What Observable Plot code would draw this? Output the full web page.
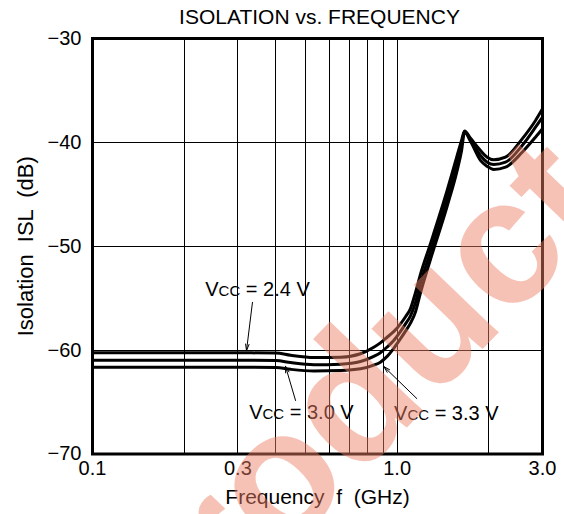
<!DOCTYPE html>
<html>
<head>
<meta charset="utf-8">
<script src="https://cdn.jsdelivr.net/npm/d3@7"></script>
<script src="https://cdn.jsdelivr.net/npm/@observablehq/plot@0.6"></script>
<style>
  html, body { margin: 0; padding: 0; background: #fff; }
  svg text { white-space: pre; }
</style>
</head>
<body>
<div id="chart"></div>
<script>
// ---- data ----
const freq  = [0.1, 0.2, 0.3, 0.4, 0.447, 0.533, 0.652, 0.758, 0.838, 0.881, 0.927, 0.976, 1.026, 1.064, 1.106, 1.149, 1.19, 1.287, 1.459, 1.574, 1.627, 1.664, 1.741, 1.877, 1.975, 2.076, 2.268, 2.573, 2.846, 3.0];
const isl24 = [-60.26, -60.26, -60.26, -60.28, -60.5, -60.72, -60.68, -60.35, -59.72, -59.3, -58.76, -58.2, -57.47, -56.81, -56.0, -54.45, -52.8, -49.73, -44.63, -41.26, -39.82, -38.9, -39.6, -40.78, -41.43, -41.68, -41.43, -39.66, -37.89, -36.77];
const isl30 = [-60.98, -60.98, -60.98, -61.0, -61.2, -61.4, -61.35, -61.1, -60.6, -60.25, -59.7, -59.05, -58.2, -57.5, -56.7, -55.4, -53.7, -50.5, -45.4, -42.0, -40.3, -38.95, -39.75, -41.26, -41.91, -42.13, -41.91, -40.3, -38.54, -37.57];
const isl33 = [-61.65, -61.65, -61.65, -61.68, -61.85, -62.0, -61.96, -61.8, -61.45, -61.16, -60.6, -59.8, -58.9, -58.2, -57.4, -56.3, -54.6, -51.25, -46.15, -42.7, -40.8, -39.0, -39.9, -41.74, -42.32, -42.61, -42.39, -40.95, -39.5, -38.69];
const vccNames = ["2.4 V", "3.0 V", "3.3 V"];

const xTicks = [0.1, 0.3, 1, 3];
const xTickLabels = ["0.1", "0.3", "1.0", "3.0"];
const yTicks = [-70, -60, -50, -40, -30];
const xGrid = [0.2, 0.3, 0.4, 0.5, 0.6, 0.7, 0.8, 0.9, 1, 2];
const yGrid = [-60, -50, -40];

const title = "ISOLATION vs. FREQUENCY";
const xLabel = "Frequency  f  (GHz)";
const yLabel = "Isolation  ISL  (dB)";
const watermark = "Product";

// annotation labels (data coordinates)
const labelF = [0.348, 0.485, 1.45];
const labelV = [-54.2, -66.0, -66.1];
// arrows: start -> tip
const arrowF1 = [0.335, 0.464, 1.16];
const arrowV1 = [-55.4, -64.85, -64.66];
const arrowF2 = [0.3203, 0.430, 0.904];
const arrowV2 = [-60.05, -61.55, -61.58];

// ---- build tables ----
const seriesVals = [isl24, isl30, isl33];
const curves = [];
seriesVals.forEach((vals, s) => {
  vals.forEach((v, i) => curves.push({vcc: vccNames[s], f: freq[i], v}));
});
const labels = vccNames.map((n, i) => ({text: "VCC = " + n, f: labelF[i], v: labelV[i]}));
const arrows = vccNames.map((n, i) => ({x1: arrowF1[i], y1: arrowV1[i], x2: arrowF2[i], y2: arrowV2[i]}));
const tickLabelMap = new Map(xTicks.map((t, i) => [t, xTickLabels[i]]));

const font = "Arial, 'Liberation Sans', Helvetica, sans-serif";

const svg = Plot.plot({
  width: 564,
  height: 514,
  marginTop: 38,
  marginBottom: 60.5,
  marginLeft: 92,
  marginRight: 22,
  style: {fontFamily: font, fontSize: "20px", color: "#000", background: "#fff"},
  x: {type: "log", domain: [0.1, 3], axis: null},
  y: {domain: [-70, -30], axis: null},
  marks: [
    Plot.ruleX(xGrid, {stroke: "#000", strokeWidth: 1, shapeRendering: "crispEdges"}),
    Plot.ruleY(yGrid, {stroke: "#000", strokeWidth: 1, shapeRendering: "crispEdges"}),
    Plot.line(curves, {x: "f", y: "v", z: "vcc", stroke: "#000", strokeWidth: 3, curve: "monotone-x"}),
    Plot.frame({stroke: "#000", strokeWidth: 3}),
    Plot.axisX(xTicks, {tickSize: 0, tickPadding: 7, fontSize: 20, label: null, tickFormat: d => tickLabelMap.get(d)}),
    Plot.axisY(yTicks, {tickSize: 0, tickPadding: 11, fontSize: 20, label: null}),
    Plot.arrow(arrows, {x1: "x1", y1: "y1", x2: "x2", y2: "y2", stroke: "#000", strokeWidth: 1, headLength: 10, headAngle: 30}),
    Plot.text(labels, {x: "f", y: "v", text: "text", fontSize: 20, fill: "#000"}),
    Plot.text([title], {frameAnchor: "top", lineAnchor: "middle", textAnchor: "middle", dx: 2, dy: -21.4, fontSize: 21, fill: "#000"}),
    Plot.text([xLabel], {frameAnchor: "bottom", lineAnchor: "middle", textAnchor: "middle", dy: 43, fontSize: 21, fill: "#000"}),
    Plot.text([yLabel], {frameAnchor: "left", lineAnchor: "middle", textAnchor: "middle", dx: -67, rotate: -90, fontSize: 22, fill: "#000"}),
    Plot.text([watermark], {frameAnchor: "middle", lineAnchor: "middle", textAnchor: "middle", dx: 25, dy: 166, rotate: -46, fontSize: 178, fontWeight: "bold", fill: "#ee8066", fillOpacity: 0.48})
  ]
});

// subscript-style "CC"
d3.select(svg).selectAll("text").each(function () {
  const t = this.textContent;
  if (t.startsWith("VCC = ")) {
    const rest = t.slice(3);
    const sel = d3.select(this);
    sel.text(null);
    sel.append("tspan").text("V");
    sel.append("tspan").attr("font-size", "75%").text("CC");
    sel.append("tspan").text(rest);
  }
});

document.getElementById("chart").appendChild(svg);
</script>
</body>
</html>
